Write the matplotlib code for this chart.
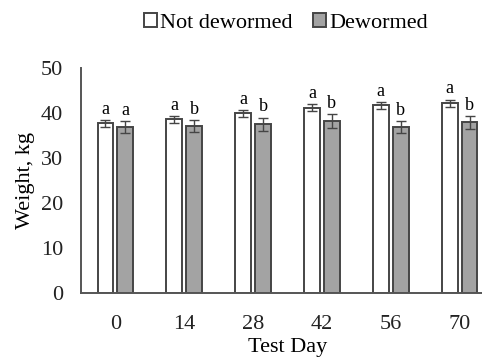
import numpy as np
import matplotlib.pyplot as plt

plt.rcParams['font.family'] = ['Liberation Serif', 'DejaVu Serif']

days = ['0', '14', '28', '42', '56', '70']
not_dewormed = [37.7, 38.6, 39.9, 41.2, 41.7, 42.2]
not_dewormed_err = [0.8, 0.8, 0.7, 0.8, 0.8, 0.8]
dewormed = [36.9, 37.1, 37.5, 38.2, 36.9, 37.9]
dewormed_err = [1.4, 1.3, 1.5, 1.6, 1.4, 1.5]
letters_nd = ['a', 'a', 'a', 'a', 'a', 'a']
letters_d = ['a', 'b', 'b', 'b', 'b', 'b']

edge = '#454545'
x = np.arange(len(days))
w = 0.23
off = 0.145

fig = plt.figure(figsize=(4.82, 3.6), dpi=100)
# axis runs past the right edge of the figure
ax = fig.add_axes([81 / 482, 1 - 293 / 360, 413 / 482, 225 / 360])

ax.bar(x - off, not_dewormed, w, color='white', edgecolor=edge, linewidth=1.4,
       yerr=not_dewormed_err, error_kw=dict(ecolor=edge, capsize=3.5, elinewidth=1, capthick=1),
       label='Not dewormed')
ax.bar(x + off, dewormed, w, color='#a3a3a3', edgecolor=edge, linewidth=1.4,
       yerr=dewormed_err, error_kw=dict(ecolor=edge, capsize=3.5, elinewidth=1, capthick=1),
       label='Dewormed')

for i in range(len(days)):
    ax.annotate(letters_nd[i], (x[i] - off, not_dewormed[i] + not_dewormed_err[i]),
                xytext=(0, 1.5), textcoords='offset points', ha='center', va='bottom', fontsize=13)
    ax.annotate(letters_d[i], (x[i] + off, dewormed[i] + dewormed_err[i]),
                xytext=(0, 1.5), textcoords='offset points', ha='center', va='bottom', fontsize=13)

ax.set_ylim(0, 50)
ax.set_yticks(range(0, 51, 10))
ax.set_xlim(-0.5, 5.5)
ax.set_xticks(x)
ax.set_xticklabels(days)
ax.tick_params(axis='both', length=0, labelsize=16, colors='#222222')
ax.tick_params(axis='y', pad=13)
ax.tick_params(axis='x', pad=15.5)
for s in ['top', 'right']:
    ax.spines[s].set_visible(False)
for s in ['left', 'bottom']:
    ax.spines[s].set_color('#555555')
    ax.spines[s].set_linewidth(1.4)

ax.set_ylabel('Weight, kg', fontsize=16, labelpad=4)
ax.set_xlabel('Test Day', fontsize=16, labelpad=3)

fig.legend(loc='center', bbox_to_anchor=(286 / 482, 1 - 23 / 360), ncol=2, frameon=False,
           fontsize=16, handlelength=0.6, handleheight=0.6, handletextpad=0.15,
           columnspacing=0.9, borderpad=0)

fig.savefig('out.png', dpi=100)
